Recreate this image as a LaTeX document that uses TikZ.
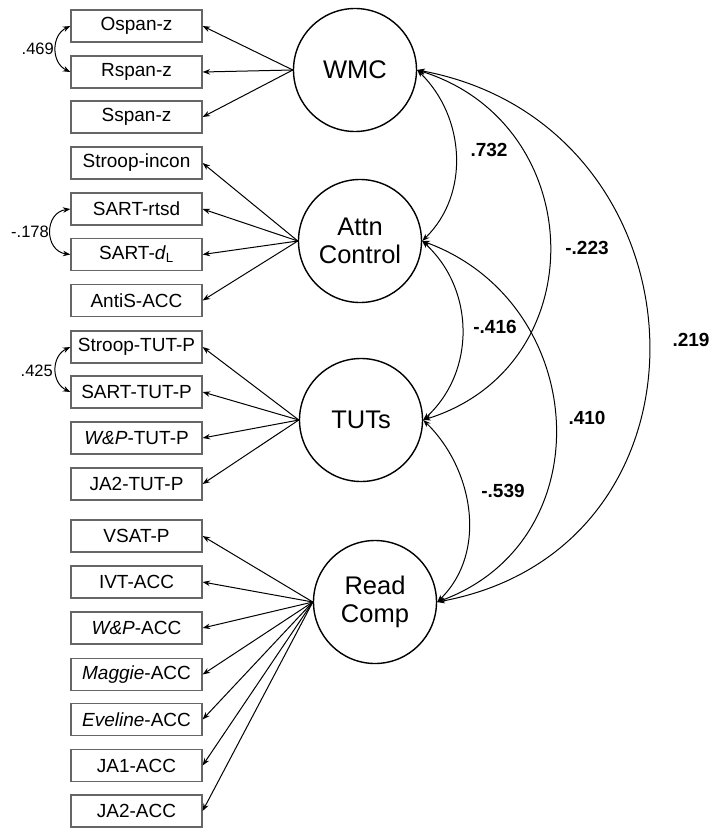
\documentclass[tikz,border=0pt]{standalone}
\usepackage{fontspec}
\setmainfont{Liberation Sans}
\usetikzlibrary{arrows.meta}
\begin{document}
\begin{tikzpicture}[x=1pt,y=-1pt,
  ind/.style={draw=black!60, line width=1.2pt, minimum width=131pt, minimum height=32pt, inner sep=0pt, font=\fontsize{19}{22}\selectfont},
  lat/.style={draw, circle, line width=1.4pt, minimum size=123pt, inner sep=0pt, align=center, font=\fontsize{25.5}{28.5}\selectfont},
  load/.style={-{Stealth[length=7.5pt,width=5.5pt]}, line width=1pt},
  cov/.style={{Stealth[length=7.5pt,width=5.5pt]}-{Stealth[length=7.5pt,width=5.5pt]}, line width=1pt},
  lab/.style={font=\bfseries\fontsize{19}{22}\selectfont, inner sep=0pt},
  slab/.style={font=\fontsize{16.5}{19}\selectfont, anchor=east, inner sep=0pt}]
\useasboundingbox (0,0) rectangle (712,829);

% indicators
\node[ind] (o1) at (136.5,26) {Ospan-z};
\node[ind] (o2) at (136.5,72) {Rspan-z};
\node[ind] (o3) at (136.5,117) {Sspan-z};
\node[ind] (a1) at (136.5,163) {Stroop-incon};
\node[ind] (a2) at (136.5,209) {SART-rtsd};
\node[ind] (a3) at (136.5,254.5) {SART-\textit{d}\textsubscript{L}};
\node[ind] (a4) at (136.5,300.5) {AntiS-ACC};
\node[ind] (t1) at (136.5,347) {Stroop-TUT-P};
\node[ind] (t2) at (136.5,392) {SART-TUT-P};
\node[ind] (t3) at (136.5,438) {\textit{W\&P}-TUT-P};
\node[ind] (t4) at (136.5,484) {JA2-TUT-P};
\node[ind] (r1) at (136.5,536) {VSAT-P};
\node[ind] (r2) at (136.5,582) {IVT-ACC};
\node[ind] (r3) at (136.5,628) {\textit{W\&P}-ACC};
\node[ind] (r4) at (136.5,674.5) {\textit{Maggie}-ACC};
\node[ind] (r5) at (136.5,719.5) {\textit{Eveline}-ACC};
\node[ind] (r6) at (136.5,765.5) {JA1-ACC};
\node[ind] (r7) at (136.5,811) {JA2-ACC};

% latent variables
\node[lat] (wmc) at (355,70) {WMC};
\node[lat] (attn) at (360,241) {Attn\\Control};
\node[lat] (tuts) at (361,420) {TUTs};
\node[lat] (read) at (375,602) {Read\\Comp};

% loadings
\foreach \i in {o1,o2,o3} \draw[load] (wmc.west) -- (\i.east);
\foreach \i in {a1,a2,a3,a4} \draw[load] (attn.west) -- (\i.east);
\foreach \i in {t1,t2,t3,t4} \draw[load] (tuts.west) -- (\i.east);
\foreach \i in {r1,r2,r3,r4,r5,r6,r7} \draw[load] (read.west) -- (\i.east);

% latent correlations
\draw[cov] (wmc.east) .. controls +(48,47) and +(48,-47) .. (attn.east);
\draw[cov] (wmc.east) .. controls +(172.6,53.8) and +(172.6,-53.8) .. (tuts.east);
\draw[cov] (wmc.east) .. controls +(295.1,54.7) and +(295.1,-54.7) .. (read.east);
\draw[cov] (attn.east) .. controls +(52.7,48.5) and +(52.7,-48.5) .. (tuts.east);
\draw[cov] (attn.east) .. controls +(167.4,61.6) and +(167.4,-61.6) .. (read.east);
\draw[cov] (tuts.east) .. controls +(50.5,49.2) and +(50.5,-49.2) .. (read.east);

% residual correlations
\draw[cov] (o1.west) .. controls +(-19.3,9.2) and +(-19.3,-9.2) .. (o2.west);
\draw[cov] (a2.west) .. controls +(-26.3,3.7) and +(-26.3,-3.7) .. (a3.west);
\draw[cov] (t1.west) .. controls +(-19.3,9.2) and +(-19.3,-9.2) .. (t2.west);

% labels
\node[lab] (l1) at (489,150) {.732};
\node[lab] (l2) at (587,248) {-.223};
\node[lab] (l3) at (691,340) {.219};
\node[lab] (l4) at (495,327) {-.416};
\node[lab] (l5) at (587,418) {.410};
\node[lab] (l6) at (503,491) {-.539};
\node[slab] (s1) at (54,49) {.469};
\node[slab] (s2) at (49,232) {-.178};
\node[slab] (s3) at (53,371) {.425};
\end{tikzpicture}
\end{document}
